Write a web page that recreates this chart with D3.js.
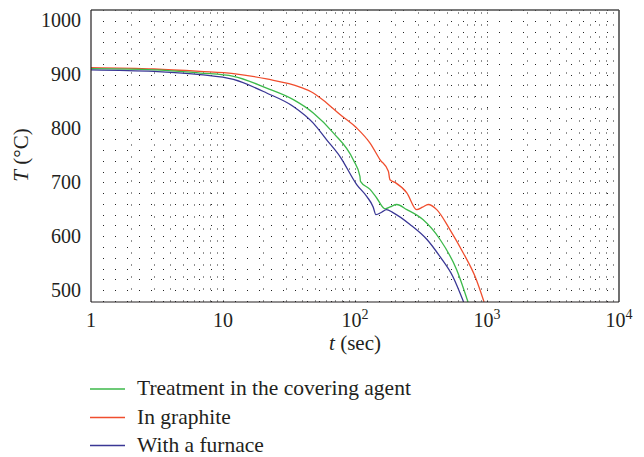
<!DOCTYPE html>
<html>
<head>
<meta charset="utf-8">
<script src="https://cdn.jsdelivr.net/npm/d3@7"></script>
<style>
  body { margin: 0; background: #fff; }
  text { font-family: "Liberation Serif", serif; fill: #231f20; }
</style>
</head>
<body>
<div id="chart"></div>
<script>
// cooling curves
var seriesNames = ["Treatment in the covering agent", "In graphite", "With a furnace"];
var seriesColors = ["#3cb94a", "#f04e2e", "#3a3795"];

var greenTime = [1, 3, 6.7, 12, 21.4, 34.1, 48.3, 68.5, 97, 109, 110, 130, 146, 169, 185, 207, 247, 327, 441, 589, 718];
var greenTemp = [911, 909, 903, 897, 875, 853.6, 829, 792, 742, 711, 702, 687, 671, 651, 654.5, 659, 649.5, 631, 594, 538, 478];

var redTime = [1, 3, 6.7, 12, 21.4, 38.3, 48.3, 61, 77, 103, 130, 155, 179, 184, 201, 247, 293, 325, 359, 416, 525, 661, 811, 950];
var redTemp = [913, 910.5, 906, 902, 892, 877, 866, 847.5, 826, 801, 773, 742, 720.6, 705, 700, 680.5, 649.5, 654, 659, 649.5, 612, 569, 525.6, 478];

var blueTime = [1, 3, 6.7, 12, 21.4, 34.1, 48.3, 61, 77, 103, 123, 137, 144, 160, 173, 194, 261, 351, 441, 552, 665];
var blueTemp = [909, 906, 900, 891, 866, 841, 810, 779, 748, 696, 673.6, 655, 640, 645, 649.5, 644, 622, 594, 562, 525, 478];

var yTicks = [500, 600, 700, 800, 900, 1000];
var xTicks = [1, 10, 100, 1000, 10000];
var xTickBase = ["1", "10", "10", "10", "10"];
var xTickExp = ["", "", "2", "3", "4"];

function init(){
	var w = 644;
	var h = 457;
	var left = 91, right = 619, top = 10, bottom = 302;

	var xScale = d3.scaleLog()
					.domain([1, 10000])
					.range([left, right]);

	var yScale = d3.scaleLinear()
					.domain([478, 1020])
					.range([bottom, top]);

	var svg = d3.select("#chart")
				.append("svg")
				.attr("width", w)
				.attr("height", h);

	// dotted minor grid
	var gridX = [];
	for (var d = 0; d < 4; d++) {
		for (var k = 1; k < 10; k++) {
			var v = k * Math.pow(10, d);
			if (v > 1) gridX.push(v);
		}
	}
	var gridY = d3.range(480, 1021, 20);

	var grid = svg.append("g")
		.attr("stroke", "#222")
		.attr("stroke-width", 1)
		.attr("stroke-dasharray", "1,11");
	grid.selectAll("line.gy")
		.data(gridY)
		.enter()
		.append("line")
		.attr("class", "gy")
		.attr("x1", left + 12).attr("x2", right)
		.attr("y1", function(d){ return Math.round(yScale(d)) + 0.5; })
		.attr("y2", function(d){ return Math.round(yScale(d)) + 0.5; });
	grid.selectAll("line.gx")
		.data(gridX)
		.enter()
		.append("line")
		.attr("class", "gx")
		.attr("x1", function(d){ return Math.round(xScale(d)) + 0.5; })
		.attr("x2", function(d){ return Math.round(xScale(d)) + 0.5; })
		.attr("y1", Math.round(yScale(480)) + 0.5)
		.attr("y2", top);

	// curves
	var line = d3.line()
		.x(function(d){ return xScale(d[0]); })
		.y(function(d){ return yScale(d[1]); })
		.curve(d3.curveMonotoneX);

	svg.append("clipPath").attr("id", "plot")
		.append("rect")
		.attr("x", left).attr("y", top)
		.attr("width", right - left).attr("height", bottom - top);

	var series = [
		[greenTime, greenTemp],
		[redTime, redTemp],
		[blueTime, blueTemp]
	];
	[1, 0, 2].forEach(function(i){
		var pts = d3.zip(series[i][0], series[i][1]);
		svg.append("path")
			.datum(pts)
			.attr("clip-path", "url(#plot)")
			.attr("d", line)
			.attr("fill", "none")
			.attr("stroke", seriesColors[i])
			.attr("stroke-width", 1.3);
	});

	// frame
	svg.append("line").attr("x1", left).attr("x2", right).attr("y1", top).attr("y2", top)
		.attr("stroke", "#4d4d4d").attr("stroke-width", 1.6);
	svg.append("line").attr("x1", right).attr("x2", right).attr("y1", top).attr("y2", bottom)
		.attr("stroke", "#4d4d4d").attr("stroke-width", 1.6);
	svg.append("line").attr("x1", left).attr("x2", right).attr("y1", bottom).attr("y2", bottom)
		.attr("stroke", "#231f20").attr("stroke-width", 1.2);
	svg.append("line").attr("x1", left).attr("x2", left).attr("y1", top).attr("y2", bottom)
		.attr("stroke", "#231f20").attr("stroke-width", 1.2);

	// tick labels
	svg.selectAll("text.ylab")
		.data(yTicks)
		.enter()
		.append("text")
		.attr("class", "ylab")
		.attr("x", 81)
		.attr("y", function(d){ return yScale(d) + 6.7; })
		.attr("text-anchor", "end")
		.attr("font-size", "20")
		.text(function(d){ return d; });

	var xl = svg.selectAll("text.xlab")
		.data(xTicks)
		.enter()
		.append("text")
		.attr("class", "xlab")
		.attr("x", function(d){ return xScale(d); })
		.attr("y", 327)
		.attr("text-anchor", "middle")
		.attr("font-size", "20");
	xl.append("tspan").text(function(d, i){ return xTickBase[i]; });
	xl.append("tspan")
		.attr("dy", -8)
		.attr("font-size", "14")
		.text(function(d, i){ return xTickExp[i]; });

	// axis titles
	var xt = svg.append("text")
		.attr("x", 355)
		.attr("y", 350)
		.attr("text-anchor", "middle")
		.attr("font-size", "21");
	xt.append("tspan").attr("font-style", "italic").text("t");
	xt.append("tspan").text(" (sec)");

	var yt = svg.append("text")
		.attr("transform", "translate(28,155) rotate(-90)")
		.attr("text-anchor", "middle")
		.attr("font-size", "21");
	yt.append("tspan").attr("font-style", "italic").text("T");
	yt.append("tspan").text(" (°C)");

	// legend
	var legY = [389, 417.5, 445.5];
	var leg = svg.selectAll("g.leg")
		.data(seriesNames)
		.enter()
		.append("g")
		.attr("class", "leg")
		.attr("transform", function(d, i){ return "translate(0," + legY[i] + ")"; });
	leg.append("line")
		.attr("x1", 90).attr("x2", 125)
		.attr("y1", 0).attr("y2", 0)
		.attr("stroke", function(d, i){ return seriesColors[i]; })
		.attr("stroke-width", 1.3);
	leg.append("text")
		.attr("x", 137)
		.attr("y", 6)
		.attr("font-size", "21.5")
		.text(function(d){ return d; });
}

window.onload = init;
</script>
</body>
</html>
